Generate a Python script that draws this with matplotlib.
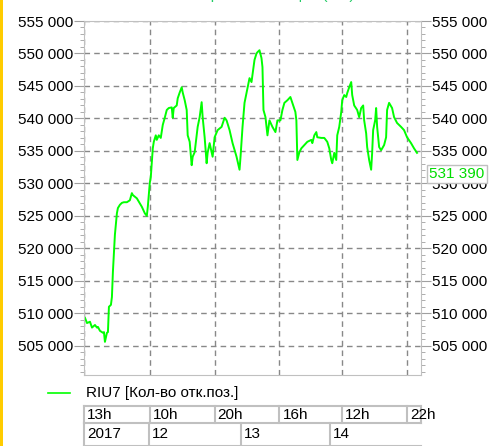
import matplotlib
matplotlib.use("Agg")
from matplotlib import pyplot as plt
from matplotlib.lines import Line2D
from matplotlib.patches import Rectangle
import matplotlib.transforms as mtransforms
import numpy as np

plt.rcParams['font.family'] = ['Liberation Sans', 'DejaVu Sans']

# bar index / open interest (RIU7)
t = [1, 3, 6, 8, 11, 13, 14, 16, 19, 20, 21, 23, 24, 25, 27, 28, 29, 31, 33, 34,
     36, 38, 40, 43, 46, 48, 49, 53, 58, 61, 63, 64, 66, 67, 69, 70, 72, 73, 75, 77,
     79, 81, 83, 85, 88, 89, 90, 93, 94, 96, 98, 99, 101, 103, 104, 106, 108, 109, 111, 114,
     116, 118, 119, 121, 123, 124, 126, 128, 129, 131, 134, 138, 141, 143, 146, 149, 153, 156, 157, 159,
     161, 163, 166, 168, 169, 171, 173, 174, 176, 178, 179, 180, 182, 184, 186, 189, 192, 194, 197, 199,
     201, 204, 207, 209, 212, 213, 214, 216, 218, 221, 224, 228, 229, 231, 233, 234, 238, 241, 244, 246,
     248, 249, 251, 253, 254, 256, 258, 259, 261, 263, 264, 266, 268, 269, 271, 274, 276, 278, 280, 281,
     283, 284, 286, 288, 289, 290, 292, 293, 294, 296, 298, 301, 303, 304, 306, 309, 311, 314, 318, 321,
     324, 328, 331, 334]
oi = [509300, 508500, 508700, 507800, 508200, 507800, 507900, 507300, 507000, 507100, 505600, 507000, 507100, 511000, 511300, 512500, 516400, 522100, 525400, 526200,
      526700, 527000, 527100, 527100, 527400, 528500, 528200, 527700, 526400, 525400, 525000, 526400, 530100, 531000, 535400, 536400, 537400, 536700, 537400, 537000,
      539000, 540100, 541300, 541600, 541700, 540100, 541600, 542000, 543100, 544000, 544800, 544000, 542800, 541300, 537400, 536400, 532800, 534100, 534800, 538700,
      540200, 542500, 540200, 537100, 533100, 534700, 536200, 534800, 534100, 537100, 538200, 538700, 540100, 539700, 538200, 536200, 534100, 532100, 534100, 538700,
      542400, 543900, 546200, 545600, 546700, 549000, 550000, 550200, 550500, 549300, 547900, 541300, 540200, 537400, 539700, 538700, 537900, 539700, 539700, 541300,
      542400, 542800, 543300, 542400, 541000, 539700, 533600, 534800, 535400, 535900, 536400, 536700, 536200, 537400, 537900, 537100, 537000, 537000, 536400, 535400,
      533600, 533100, 534700, 533600, 537400, 538700, 541000, 542800, 543600, 543300, 543900, 544800, 545600, 543600, 542000, 541300, 540200, 541600, 542000, 539700,
      537700, 535600, 533600, 532100, 534700, 538200, 539700, 541600, 538700, 535600, 535100, 535900, 537100, 541300, 542400, 541600, 540200, 539300, 538700, 538200,
      537100, 536200, 535400, 534700]

last_value = "531 390"
hour_ticks = [0, 66, 131, 196, 259, 324]
hour_labels = ["13h", "10h", "20h", "16h", "12h", "22h"]
day_starts = [0, 65, 157, 247]
day_labels = ["2017", "12", "13", "14"]
x_max = 338

green = "#00ff00"
gray = "#c0c0c0"

fig = plt.figure(figsize=(4.9, 4.46), dpi=100)
fig.add_artist(Rectangle((0, 0), 3 / 490, 1, transform=fig.transFigure,
                         color="#ffcc00", lw=0))
fig.text(0.55, 1.012, "Открытые позиции (шт.)", color="#22cc66",
         fontsize=11, ha="center", va="center")

ax = fig.add_axes([84 / 490, 1 - 375 / 446, (421 - 84) / 490, (375 - 21) / 446])
ax.plot(t, oi, color=green, lw=1.4)

ax.set_xlim(0, x_max)
ax.set_ylim(500500, 555000)
ax.set_yticks(np.arange(505000, 555001, 5000))
ax.set_yticks(np.arange(501000, 555001, 1000), minor=True)
ax.set_yticklabels([f"{v:,}".replace(",", " ") for v in range(505000, 555001, 5000)])
ax.set_xticks(hour_ticks)
ax.set_xticklabels([])
ax.tick_params(axis="x", length=0)
ax.tick_params(axis="y", which="both", left=True, right=True,
               labelleft=True, labelright=True, colors="#a0a0a0",
               labelcolor="black", labelsize=11, pad=1)
ax.tick_params(axis="y", which="major", length=7)
ax.tick_params(axis="y", which="minor", length=3)
ax.grid(True, color="#888888", linestyle=(0, (4, 3)), lw=1)
for s in ax.spines.values():
    s.set_color(gray)

# current value box
trans = mtransforms.blended_transform_factory(ax.transAxes, ax.transData)
ax.text(1.025, 531390, last_value, transform=trans, color="#00dd00",
        fontsize=11, va="center", ha="left", clip_on=False,
        bbox=dict(facecolor="white", edgecolor=gray, pad=1.5))

# legend
fig.add_artist(Line2D([48 / 490, 70 / 490], [1 - 393 / 446] * 2, color=green, lw=1.2))
fig.text(86 / 490, 1 - 393 / 446, "RIU7 [Кол-во отк.поз.]", fontsize=11, va="center")

# time table below the chart
xt = ax.get_xaxis_transform()
r1_top, r1_bot, r2_bot = -0.0876, -0.1356, -0.2
for y in (r1_top, r1_bot, r2_bot):
    ax.add_line(Line2D([0, x_max], [y, y], transform=xt, color=gray, lw=1.5, clip_on=False))
for x, lab in zip(hour_ticks, hour_labels):
    ax.add_line(Line2D([x, x], [r1_top, r1_bot], transform=xt, color=gray, lw=1.5, clip_on=False))
    ax.text(x + 3, (r1_top + r1_bot) / 2, lab, transform=xt, fontsize=11,
            va="center", ha="left", clip_on=False)
ax.add_line(Line2D([x_max, x_max], [r1_top, r1_bot], transform=xt, color=gray, lw=1.5, clip_on=False))
for x, lab in zip(day_starts, day_labels):
    ax.add_line(Line2D([x, x], [r1_bot, r2_bot], transform=xt, color=gray, lw=1.5, clip_on=False))
    ax.text(x + 3, r1_bot - 0.03, lab, transform=xt, fontsize=11,
            va="center", ha="left", clip_on=False)

fig.savefig("out.png", dpi=100)
